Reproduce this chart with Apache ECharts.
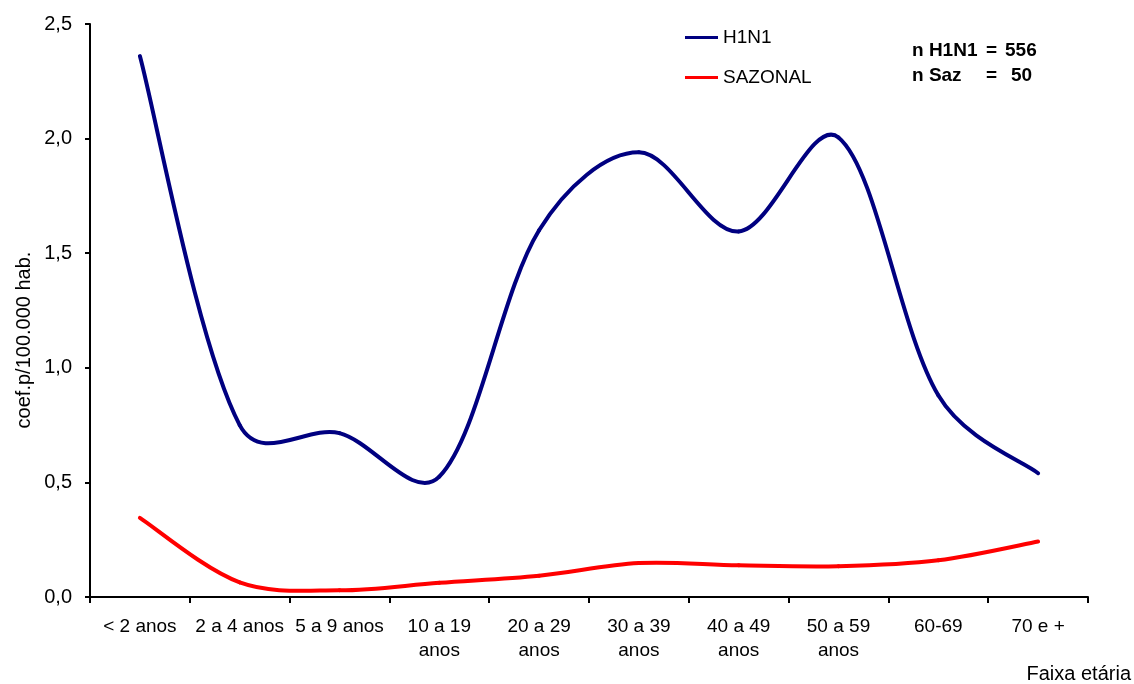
<!DOCTYPE html>
<html>
<head>
<meta charset="utf-8">
<script src="https://cdn.jsdelivr.net/npm/echarts@6/dist/echarts.min.js"></script>
<style>html,body{margin:0;padding:0;background:#fff}#c{width:1134px;height:684px}</style>
</head>
<body>
<div id="c"></div>
<script>
const categories = ['< 2 anos', '2 a 4 anos', '5 a 9 anos', '10 a 19\nanos', '20 a 29\nanos', '30 a 39\nanos', '40 a 49\nanos', '50 a 59\nanos', '60-69', '70 e +'];
const h1n1 = [2.36, 0.75, 0.715, 0.525, 1.60, 1.94, 1.595, 2.005, 0.88, 0.54];
const sazonal = [0.345, 0.064, 0.029, 0.062, 0.093, 0.148, 0.138, 0.134, 0.16, 0.242];
const yTicks = [0, 0.5, 1.0, 1.5, 2.0, 2.5];

const COLORS = { H1N1: '#000080', SAZONAL: '#FF0000' };
const font = 'Liberation Sans, Arial, sans-serif';

// Smoothed line through the data points, positioned with the chart's own axes
function smoothRender(values, color) {
  return function (params, api) {
    const i = params.dataIndex;
    const n = values.length;
    if (i >= n - 1) return null;
    const p = k => { const j = Math.max(0, Math.min(n - 1, k)); return api.coord([j, values[j]]); };
    const dist = (a, b) => Math.hypot(a[0] - b[0], a[1] - b[1]);
    const p0 = p(i - 1), p1 = p(i), p2 = p(i + 1), p3 = p(i + 2);
    const t = 1 / 6;
    const L01 = dist(p0, p1), L12 = dist(p1, p2), L23 = dist(p2, p3);
    const f1 = (i - 1 < 0) ? 1 : Math.sqrt(2 * L12 / (L01 + L12));
    const f2 = (i + 2 > n - 1) ? 1 : Math.sqrt(2 * L12 / (L12 + L23));
    return {
      type: 'bezierCurve',
      shape: {
        x1: p1[0], y1: p1[1], x2: p2[0], y2: p2[1],
        cpx1: p1[0] + (p2[0] - p0[0]) * t * f1, cpy1: p1[1] + (p2[1] - p0[1]) * t * f1,
        cpx2: p2[0] - (p3[0] - p1[0]) * t * f2, cpy2: p2[1] - (p3[1] - p1[1]) * t * f2
      },
      style: { stroke: color, lineWidth: 4, fill: null, lineCap: 'round' },
      silent: true
    };
  };
}

const chart = echarts.init(document.getElementById('c'));
chart.setOption({
  animation: false,
  textStyle: { fontFamily: font },
  grid: { left: 90, right: 46, top: 24, bottom: 87 },
  legend: {
    orient: 'vertical', left: 680, top: 23, itemGap: 21,
    itemWidth: 33, itemHeight: 3, icon: 'rect',
    textStyle: { fontSize: 19, color: '#000', fontFamily: font },
    data: [
      { name: 'H1N1', itemStyle: { color: COLORS.H1N1 } },
      { name: 'SAZONAL', itemStyle: { color: COLORS.SAZONAL } }
    ]
  },
  xAxis: {
    type: 'category', data: categories, boundaryGap: true,
    axisLine: { lineStyle: { color: '#000', width: 2 } },
    axisTick: { show: true, length: 6, lineStyle: { color: '#000', width: 2 } },
    axisLabel: { color: '#000', fontSize: 19, margin: 18, lineHeight: 24, interval: 0, fontFamily: font },
    splitLine: { show: false }
  },
  yAxis: {
    type: 'value', min: 0, max: 2.5, interval: 0.5,
    axisLine: { show: true, lineStyle: { color: '#000', width: 2 } },
    axisTick: { show: true, length: 5, lineStyle: { color: '#000', width: 2 } },
    axisLabel: { color: '#000', fontSize: 20, margin: 18, fontFamily: font,
      formatter: v => v.toFixed(1).replace('.', ',') },
    splitLine: { show: false }
  },
  graphic: [
    { type: 'text', x: 24, y: 340, rotation: Math.PI / 2,
      style: { text: 'coef.p/100.000 hab.', fontSize: 20, fill: '#000', fontFamily: font, align: 'center', verticalAlign: 'middle' } },
    { type: 'text', right: 3, top: 664, style: { text: 'Faixa etária', fontSize: 20, fill: '#000', fontFamily: font } },
    { type: 'text', left: 912, top: 41, style: { text: 'n H1N1', fontSize: 19, fontWeight: 'bold', fill: '#000', fontFamily: font } },
    { type: 'text', left: 986, top: 41, style: { text: '=', fontSize: 19, fontWeight: 'bold', fill: '#000', fontFamily: font } },
    { type: 'text', left: 1005, top: 41, style: { text: '556', fontSize: 19, fontWeight: 'bold', fill: '#000', fontFamily: font } },
    { type: 'text', left: 912, top: 66, style: { text: 'n Saz', fontSize: 19, fontWeight: 'bold', fill: '#000', fontFamily: font } },
    { type: 'text', left: 986, top: 66, style: { text: '=', fontSize: 19, fontWeight: 'bold', fill: '#000', fontFamily: font } },
    { type: 'text', left: 1011, top: 66, style: { text: '50', fontSize: 19, fontWeight: 'bold', fill: '#000', fontFamily: font } }
  ],
  series: [
    { name: 'H1N1', type: 'custom', coordinateSystem: 'cartesian2d',
      data: h1n1.map((v, i) => [i, v]), encode: { x: 0, y: 1 },
      itemStyle: { color: COLORS.H1N1 }, renderItem: smoothRender(h1n1, COLORS.H1N1) },
    { name: 'SAZONAL', type: 'custom', coordinateSystem: 'cartesian2d',
      data: sazonal.map((v, i) => [i, v]), encode: { x: 0, y: 1 },
      itemStyle: { color: COLORS.SAZONAL }, renderItem: smoothRender(sazonal, COLORS.SAZONAL) }
  ]
});
</script>
</body>
</html>
